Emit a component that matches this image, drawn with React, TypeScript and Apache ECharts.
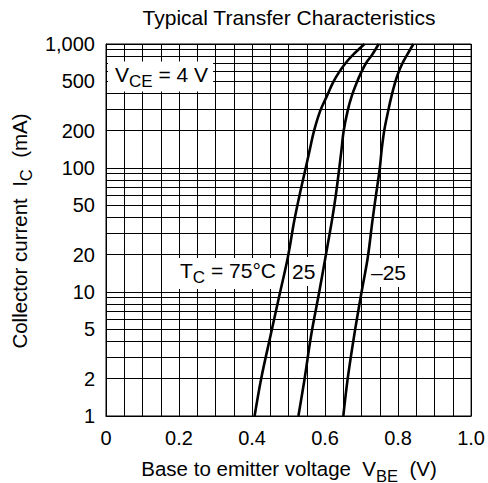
import React, { useEffect, useRef } from "react";
import * as echarts from "echarts";

const titleText = "Typical Transfer Characteristics";
const yMinorLines = [2, 3, 4, 5, 6, 7, 8, 9, 20, 30, 40, 50, 60, 70, 80, 90, 200, 300, 400, 500, 600, 700, 800, 900];
const yMinorLabels = [2, 5, 20, 50, 200, 500];
const icValues = [1, 2, 4.5, 10, 19, 38, 62, 100, 140, 200, 290, 380, 490, 590, 700, 820, 1000];
const vbe75 = [0.407, 0.425, 0.451, 0.477, 0.498, 0.516, 0.531, 0.547, 0.558, 0.570, 0.587, 0.605, 0.622, 0.638, 0.656, 0.677, 0.708];
const vbe25 = [0.527, 0.544, 0.562, 0.584, 0.601, 0.619, 0.630, 0.639, 0.645, 0.651, 0.662, 0.673, 0.687, 0.699, 0.712, 0.729, 0.747];
const vbeM25 = [0.650, 0.662, 0.680, 0.700, 0.717, 0.730, 0.740, 0.750, 0.755, 0.762, 0.773, 0.782, 0.792, 0.801, 0.812, 0.825, 0.842];

const FONT = "'Liberation Sans', Arial, Helvetica, sans-serif";

const richStyles = (main: number, sub: number) => ({
  n: { fontSize: main, fontFamily: FONT, fill: "#000", color: "#000", verticalAlign: "bottom", padding: [0, 0, 5, 0] },
  s: { fontSize: sub, fontFamily: FONT, fill: "#000", color: "#000", verticalAlign: "bottom" },
});

export default function App() {
  const ref = useRef<HTMLDivElement>(null);
  useEffect(() => {
    if (!ref.current) return;
    const chart = echarts.init(ref.current, null, { renderer: "svg" });
    const mk = (xs: number[]) => icValues.map((ic, i) => [xs[i], ic]);
    const lineSeries = (name: string, xs: number[], extra: any = {}) => ({
      name,
      type: "line",
      data: mk(xs),
      smooth: 0.35,
      showSymbol: false,
      symbol: "none",
      lineStyle: { color: "#000", width: 2.6 },
      z: 5,
      ...extra,
    });
    chart.setOption({
      animation: false,
      backgroundColor: "#fff",
      textStyle: { fontFamily: FONT },
      grid: { left: 106, top: 44, width: 366, height: 372, show: true, borderColor: "#000", borderWidth: 1, backgroundColor: "#fff" },
      xAxis: {
        type: "value",
        min: 0,
        max: 1,
        interval: 0.05,
        axisLine: { show: true, lineStyle: { color: "#000", width: 1 } },
        axisTick: { show: false },
        splitLine: { show: true, lineStyle: { color: "#000", width: 1 } },
        axisLabel: {
          color: "#000",
          fontSize: 20,
          fontFamily: FONT,
          margin: 12,
          showMinLabel: true,
          showMaxLabel: true,
          formatter: (v: number) => {
            const k = v * 5;
            if (Math.abs(k - Math.round(k)) > 1e-6) return "";
            return v === 0 ? "0" : v.toFixed(1);
          },
        },
      },
      yAxis: {
        type: "log",
        logBase: 10,
        min: 1,
        max: 1000,
        axisLine: { show: true, lineStyle: { color: "#000", width: 1 } },
        axisTick: { show: false },
        splitLine: { show: true, lineStyle: { color: "#000", width: 1 } },
        axisLabel: {
          color: "#000",
          fontSize: 20,
          fontFamily: FONT,
          margin: 11,
          padding: [7, 0, 0, 0],
          formatter: (v: number) => (v >= 1000 ? "1,000" : String(Math.round(v))),
        },
      },
      series: [
        lineSeries("75", vbe75, {
          markLine: {
            silent: true,
            symbol: ["none", "none"],
            animation: false,
            lineStyle: { color: "#000", width: 1, type: "solid" },
            label: { show: false },
            emphasis: { disabled: true },
            data: yMinorLines.map((v) => ({
              yAxis: v,
              label: {
                show: yMinorLabels.includes(v),
                position: "start",
                distance: 11,
                formatter: String(v),
                color: "#000",
                fontSize: 20,
                fontFamily: FONT,
                padding: [7, 0, 0, 0],
              },
            })),
          },
        }),
        lineSeries("25", vbe25),
        lineSeries("-25", vbeM25),
      ],
      graphic: [
        {
          type: "text",
          x: 289,
          y: 17,
          style: { text: titleText, fontSize: 21, fontFamily: FONT, fill: "#000", textAlign: "center", textVerticalAlign: "middle" },
        },
        {
          type: "text",
          x: 289,
          y: 471,
          style: {
            text: "{n|Base to emitter voltage  V}{s|BE}{n|  (V)}",
            rich: richStyles(20.5, 16.5),
            textAlign: "center",
            textVerticalAlign: "middle",
          },
        },
        {
          type: "text",
          x: 21.5,
          y: 231,
          rotation: Math.PI / 2,
          style: {
            text: "{n|Collector current  I}{s|C}{n|  (mA)}",
            rich: richStyles(20.5, 16.5),
            textAlign: "center",
            textVerticalAlign: "middle",
          },
        },
        {
          type: "text",
          x: 108,
          y: 76.5,
          z: 10,
          style: {
            text: "{n|V}{s|CE}{n| = 4 V}",
            rich: richStyles(21, 17),
            textAlign: "left",
            textVerticalAlign: "middle",
            backgroundColor: "#fff",
            padding: [2, 5, 2, 7],
          },
        },
        {
          type: "text",
          x: 176,
          y: 273.5,
          z: 10,
          style: {
            text: "{n|T}{s|C}{n| = 75°C}",
            rich: richStyles(21, 17),
            textAlign: "left",
            textVerticalAlign: "middle",
            backgroundColor: "#fff",
            padding: [2, 3, 3, 4],
          },
        },
        {
          type: "text",
          x: 290,
          y: 271.5,
          z: 10,
          style: {
            text: "25",
            fontSize: 21,
            fontFamily: FONT,
            fill: "#000",
            textAlign: "left",
            textVerticalAlign: "middle",
            backgroundColor: "#fff",
            padding: [4, 2, 4, 2],
          },
        },
        {
          type: "text",
          x: 369,
          y: 272.5,
          z: 10,
          style: {
            text: "–25",
            fontSize: 21,
            fontFamily: FONT,
            fill: "#000",
            textAlign: "left",
            textVerticalAlign: "middle",
            backgroundColor: "#fff",
            padding: [4, 2, 4, 2],
          },
        },
      ],
    });
    return () => chart.dispose();
  }, []);
  return <div ref={ref} style={{ position: "fixed", left: 0, top: 0, width: 488, height: 483 }} />;
}
